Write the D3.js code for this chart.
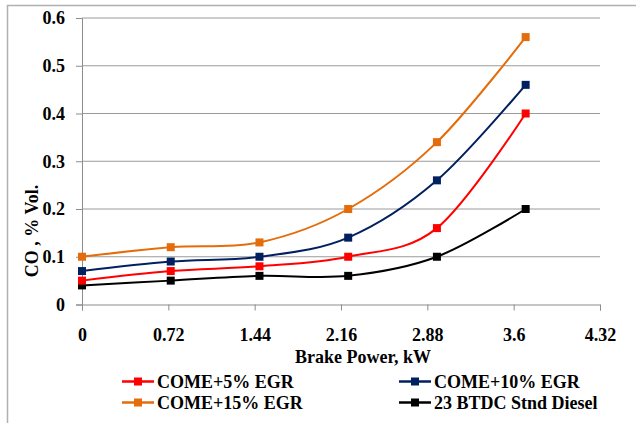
<!DOCTYPE html>
<html>
<head>
<meta charset="utf-8">
<script src="https://cdn.jsdelivr.net/npm/d3@7"></script>
<style>
  body { margin: 0; background: #fff; }
</style>
</head>
<body>
<div id="chart"></div>
<script>
const power = [0, 0.74, 1.48, 2.22, 2.96, 3.7];
const egr5 = [0.05, 0.07, 0.08, 0.10, 0.16, 0.40];
const egr10 = [0.07, 0.09, 0.10, 0.14, 0.26, 0.46];
const egr15 = [0.10, 0.12, 0.13, 0.20, 0.34, 0.56];
const diesel = [0.04, 0.05, 0.06, 0.06, 0.10, 0.20];
const xTicks = [0, 0.72, 1.44, 2.16, 2.88, 3.6, 4.32];
const yTicks = [0, 0.1, 0.2, 0.3, 0.4, 0.5, 0.6];

const series = [
  { name: "COME+5% EGR", values: egr5, color: "#ff0000" },
  { name: "COME+10% EGR", values: egr10, color: "#002060" },
  { name: "COME+15% EGR", values: egr15, color: "#e46c0a" },
  { name: "23 BTDC Stnd Diesel", values: diesel, color: "#000000" }
];

const font = "'Liberation Serif', 'Times New Roman', Times, serif";
const width = 636, height = 423;
const svg = d3.select("#chart").append("svg")
  .attr("width", width).attr("height", height);

// chart border
svg.append("rect")
  .attr("x", 7.5).attr("y", 5.5)
  .attr("width", 660).attr("height", 440)
  .attr("fill", "none").attr("stroke", "#b0b0b0").attr("stroke-width", 1.5);

const x = d3.scaleLinear().domain([0, 4.32]).range([82, 600]);
const y = d3.scaleLinear().domain([0, 0.6]).range([304.5, 18]);

// gridlines
svg.append("g").selectAll("line")
  .data(yTicks.slice(1))
  .join("line")
  .attr("x1", x(0)).attr("x2", x(4.32))
  .attr("y1", d => y(d)).attr("y2", d => y(d))
  .attr("stroke", "#9a9a9a").attr("stroke-width", 1);

function styleText(sel) {
  sel.style("font-family", font).style("font-weight", "bold")
    .style("font-size", "18px").attr("fill", "#000");
}

// y axis
const yAxis = svg.append("g")
  .attr("transform", `translate(${x(0)},0)`)
  .call(d3.axisLeft(y).tickValues(yTicks).tickSize(6).tickPadding(11)
    .tickFormat(d => d === 0 ? "0" : d3.format(".1f")(d)));
yAxis.select(".domain").attr("stroke", "#8c8c8c");
yAxis.selectAll(".tick line").attr("stroke", "#8c8c8c");
yAxis.selectAll("text").call(styleText);

// x axis
const xAxis = svg.append("g")
  .attr("transform", `translate(0,${y(0)})`)
  .call(d3.axisBottom(x).tickValues(xTicks).tickSize(6).tickPadding(18)
    .tickFormat(d => String(+d.toFixed(2))));
xAxis.select(".domain").attr("stroke", "#8c8c8c");
xAxis.selectAll(".tick line").attr("stroke", "#8c8c8c");
xAxis.selectAll("text").call(styleText);

// axis titles
svg.append("text")
  .attr("x", 363).attr("y", 363)
  .attr("text-anchor", "middle")
  .text("Brake Power, kW")
  .call(styleText);

svg.append("text")
  .attr("transform", "translate(38,231) rotate(-90)")
  .attr("text-anchor", "middle")
  .text("CO , % Vol.")
  .call(styleText);

// lines
const line = d3.line()
  .x((d, i) => x(power[i]))
  .y(d => y(d))
  .curve(d3.curveCatmullRom.alpha(0));

const order = [3, 0, 1, 2];
order.forEach(k => {
  const s = series[k];
  svg.append("path")
    .datum(s.values)
    .attr("fill", "none")
    .attr("stroke", s.color)
    .attr("stroke-width", 2)
    .attr("d", line);
  svg.append("g").selectAll("rect")
    .data(s.values)
    .join("rect")
    .attr("x", (d, i) => x(power[i]) - 4)
    .attr("y", d => y(d) - 4)
    .attr("width", 8).attr("height", 8)
    .attr("fill", s.color);
});

// legend
const legendPos = [
  { lx: 122, ly: 381.5 },
  { lx: 399, ly: 381.5 },
  { lx: 122, ly: 402.5 },
  { lx: 399, ly: 402.5 }
];
series.forEach((s, i) => {
  const p = legendPos[i];
  const g = svg.append("g");
  g.append("line")
    .attr("x1", p.lx).attr("x2", p.lx + 32)
    .attr("y1", p.ly).attr("y2", p.ly)
    .attr("stroke", s.color).attr("stroke-width", 2.5);
  g.append("rect")
    .attr("x", p.lx + 12).attr("y", p.ly - 4)
    .attr("width", 8).attr("height", 8)
    .attr("fill", s.color);
  g.append("text")
    .attr("x", p.lx + 35).attr("y", p.ly + 6)
    .text(s.name)
    .call(styleText);
});
</script>
</body>
</html>
